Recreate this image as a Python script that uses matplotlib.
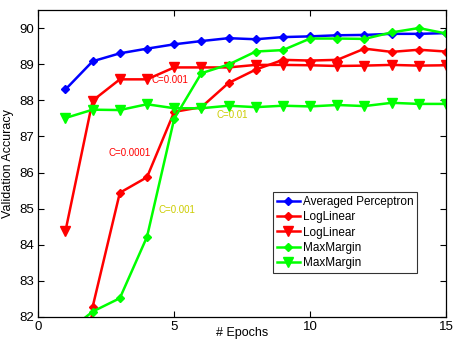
import matplotlib
matplotlib.use("Agg")
import matplotlib.pyplot as plt

plt.rcParams['font.family'] = ['Liberation Sans', 'DejaVu Sans']

epochs = list(range(1, 16))
perceptron = [88.30, 89.08, 89.30, 89.43, 89.55, 89.64, 89.72, 89.69, 89.75, 89.77, 89.80, 89.81, 89.84, 89.84, 89.86]
loglin_0001 = [75.0, 82.28, 85.44, 85.87, 87.68, 87.81, 88.48, 88.85, 89.12, 89.10, 89.12, 89.43, 89.34, 89.40, 89.35]
loglin_001 = [84.38, 87.99, 88.58, 88.58, 88.91, 88.91, 88.91, 88.98, 88.98, 88.97, 88.95, 88.96, 88.98, 88.96, 88.97]
maxmargin_001 = [81.55, 82.15, 82.52, 84.22, 87.49, 88.75, 88.99, 89.35, 89.39, 89.71, 89.71, 89.70, 89.88, 90.00, 89.85]
maxmargin_01 = [87.51, 87.74, 87.73, 87.89, 87.78, 87.78, 87.85, 87.81, 87.85, 87.83, 87.87, 87.84, 87.93, 87.90, 87.90]

legend_labels = ['Averaged Perceptron', 'LogLinear', 'LogLinear', 'MaxMargin', 'MaxMargin']
annotations = [
    ('C=0.001', 4.17, 88.56, 'red'),
    ('C=0.0001', 2.6, 86.54, 'red'),
    ('C=0.01', 6.56, 87.58, 'yellow'),
    ('C=0.001', 4.44, 84.97, 'yellow'),
]

fig = plt.figure(figsize=(4.53, 3.39), dpi=100)
ax = fig.add_axes([0.0845, 0.0649, 0.9001, 0.9056])

blue = (0, 0, 1)
red = (1, 0, 0)
green = (0, 1, 0)
ycol = (0.8, 0.8, 0.0)
lw = 1.8
ms = 5.5

ax.plot(epochs, perceptron, color=blue, marker='D', ms=ms - 1, lw=lw, label=legend_labels[0])
ax.plot(epochs, loglin_0001, color=red, marker='D', ms=ms - 1, lw=lw, label=legend_labels[1])
ax.plot(epochs, loglin_001, color=red, marker='v', ms=ms + 1, lw=lw, label=legend_labels[2])
ax.plot(epochs, maxmargin_001, color=green, marker='D', ms=ms - 1, lw=lw, label=legend_labels[3])
ax.plot(epochs, maxmargin_01, color=green, marker='v', ms=ms + 1, lw=lw, label=legend_labels[4])

for txt, x, y, c in annotations:
    ax.text(x, y, txt, color=red if c == 'red' else ycol, fontsize=7, ha='left', va='center')

ax.set_xlim(0, 15)
ax.set_ylim(82, 90.5)
ax.set_xticks([0, 5, 10, 15])
ax.set_yticks(range(82, 91))
ax.tick_params(direction='in', top=True, right=True, labelsize=9.5, length=4, width=0.8, pad=3)
for s in ax.spines.values():
    s.set_linewidth(0.9)

ax.set_xlabel('# Epochs', fontsize=9, labelpad=-4.5)
ax.set_ylabel('Validation Accuracy', fontsize=9, labelpad=4)

leg = ax.legend(loc='upper left', bbox_to_anchor=(0.576, 0.406), fontsize=8.5, frameon=True,
                fancybox=False, edgecolor='black', handlelength=2.0, handletextpad=0.2,
                borderpad=0.3, labelspacing=0.28, borderaxespad=0)
leg.get_frame().set_linewidth(0.8)

fig.savefig('out.png', dpi=100)
